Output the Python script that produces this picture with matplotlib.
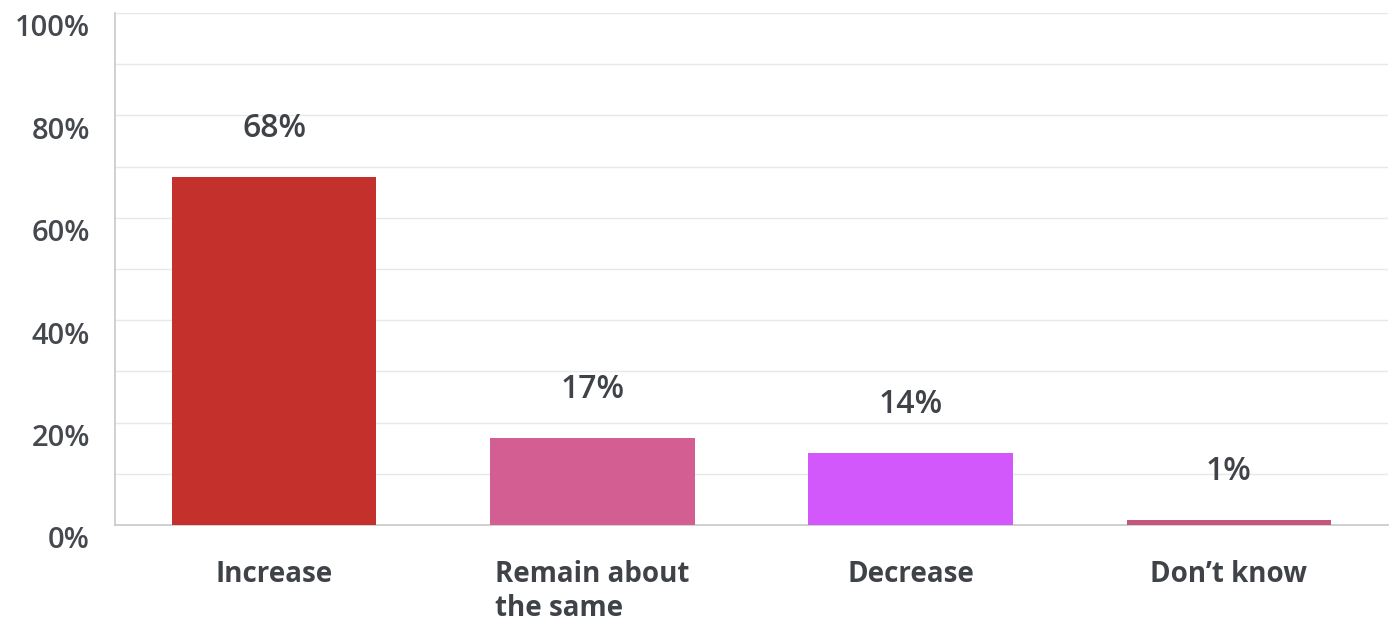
import matplotlib.pyplot as plt
import matplotlib.transforms as mtransforms

categories = ["Increase", "Remain about\nthe same", "Decrease", "Don\u2019t know"]
values = [68, 17, 14, 1]
colors = ["#c4302b", "#d35e91", "#d358fc", "#c4577a"]
yticks = [0, 20, 40, 60, 80, 100]

plt.rcParams['font.family'] = ['Open Sans', 'DejaVu Sans']
txt_color = "#3f4348"

fig = plt.figure(figsize=(13.9, 6.21), dpi=100)
ax = fig.add_axes([0.0827, 0.1546, 0.9159, 0.8244])

x = range(len(categories))
ax.bar(x, values, width=0.643, color=colors, zorder=3)

# value labels above bars
for xi, v in zip(x, values):
    ax.annotate(f"{v}%", (xi, v), xytext=(0, 35), textcoords="offset points",
                ha="center", va="center", fontsize=23, fontweight="semibold",
                color=txt_color)

ax.set_xlim(-0.5, 3.5)
ax.set_ylim(0, 100)

# grid every 10%, labels every 20%
ax.set_yticks(range(0, 101, 10), minor=True)
ax.set_yticks(yticks)
ax.set_yticklabels([f"{t}%" for t in yticks])
ax.yaxis.grid(True, which="both", color="#e8e8e8", linewidth=1, zorder=0)
ax.tick_params(axis="y", which="both", length=0, pad=18, labelsize=21,
               labelcolor="#45494e")
offset = mtransforms.ScaledTranslation(0, -1 / 72, fig.dpi_scale_trans)
for lab in ax.get_yticklabels():
    lab.set_va("top")
    lab.set_fontweight("semibold")
    lab.set_transform(lab.get_transform() + offset)

ax.set_xticks(list(x))
ax.set_xticklabels(categories, fontsize=20, fontweight="bold", color=txt_color,
                   multialignment="left", va="top", linespacing=1.22)
ax.tick_params(axis="x", length=0, pad=25)

for s in ["top", "right"]:
    ax.spines[s].set_visible(False)
for s in ["left", "bottom"]:
    ax.spines[s].set_color("#c8c8c8")
    ax.spines[s].set_linewidth(1.2)

fig.savefig("out.png", dpi=100)
